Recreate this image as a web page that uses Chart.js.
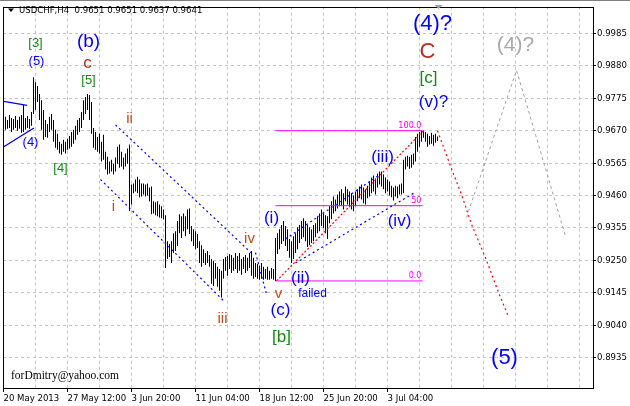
<!DOCTYPE html>
<html><head><meta charset="utf-8">
<script src="https://cdn.jsdelivr.net/npm/chart.js@4.4.0/dist/chart.umd.min.js"></script>
<style>html,body{margin:0;padding:0;background:#fff;overflow:hidden}</style>
</head><body>
<canvas id="c" width="630" height="406"></canvas>
<script>
// ---- DATA ----
const firstBar = 1; // bar index of first high/low pair
const barHigh = [
.9715,.9705,.9721,.9711,.9708,.9718,.9705,.9715,.9721,.9753,
.9711,.9718,.9708,.9731,.9843,.9827,.9815,.9789,.9769,.9737,
.9705,.9692,.9715,.9724,.9705,.9673,.9660,.9634,.9628,.9641,
.9634,.9644,.9653,.9666,.9673,.9686,.9705,.9711,.9731,.9769,
.9779,.9789,.9786,.9763,.9679,.9666,.9650,.9660,.9634,.9657,
.9602,.9586,.9570,.9576,.9563,.9583,.9618,.9625,.9602,.9583,
.9596,.9612,.9625,.9496,.9499,.9512,.9521,.9512,.9499,.9499,
.9496,.9499,.9486,.9489,.9441,.9438,.9441,.9431,.9425,.9415,
.9396,.9312,.9303,.9312,.9338,.9344,.9377,.9399,.9393,.9402,
.9393,.9415,.9418,.9361,.9351,.9344,.9335,.9312,.9299,.9286,
.9274,.9280,.9267,.9254,.9248,.9241,.9229,.9222,.9216,.9254,
.9261,.9264,.9270,.9267,.9258,.9274,.9264,.9274,.9254,.9261,
.9267,.9258,.9274,.9280,.9258,.9241,.9238,.9232,.9241,.9229,
.9222,.9229,.9216,.9225,.9222,.9322,.9338,.9351,.9364,.9377,
.9361,.9351,.9319,.9312,.9328,.9338,.9357,.9364,.9377,.9386,
.9377,.9364,.9357,.9351,.9364,.9370,.9393,.9402,.9415,.9402,
.9396,.9393,.9425,.9441,.9457,.9447,.9463,.9473,.9480,.9467,
.9489,.9480,.9473,.9467,.9460,.9473,.9480,.9489,.9496,.9486,
.9480,.9492,.9505,.9518,.9525,.9515,.9531,.9538,.9538,.9528,
.9518,.9512,.9505,.9492,.9486,.9492,.9489,.9496,.9499,.9576,
.9586,.9589,.9586,.9592,.9596,.9650,.9660,.9666,.9670,.9670,
.9666,.9660,.9653,.9663,.9657,.9660,.9651];
const barLow = [
.9673,.9676,.9679,.9666,.9673,.9679,.9670,.9676,.9663,.9666,
.9673,.9679,.9676,.9686,.9724,.9737,.9763,.9705,.9673,.9641,
.9650,.9647,.9666,.9673,.9634,.9615,.9608,.9596,.9592,.9602,
.9596,.9608,.9612,.9618,.9628,.9641,.9657,.9666,.9679,.9705,
.9724,.9737,.9705,.9660,.9615,.9608,.9602,.9596,.9570,.9576,
.9544,.9528,.9531,.9538,.9528,.9538,.9563,.9550,.9554,.9544,
.9554,.9563,.9409,.9431,.9467,.9473,.9467,.9454,.9457,.9463,
.9457,.9460,.9441,.9399,.9402,.9396,.9393,.9389,.9386,.9383,
.9225,.9254,.9261,.9241,.9274,.9280,.9296,.9338,.9322,.9344,
.9328,.9351,.9335,.9312,.9296,.9286,.9290,.9241,.9229,.9241,
.9235,.9241,.9229,.9174,.9167,.9190,.9164,.9151,.9129,.9190,
.9216,.9200,.9222,.9209,.9216,.9222,.9209,.9216,.9203,.9222,
.9209,.9216,.9225,.9200,.9190,.9196,.9190,.9187,.9190,.9187,
.9190,.9187,.9187,.9190,.9187,.9183,.9270,.9286,.9303,.9312,
.9296,.9280,.9258,.9241,.9254,.9274,.9286,.9306,.9319,.9325,
.9312,.9293,.9299,.9306,.9312,.9325,.9338,.9344,.9361,.9354,
.9338,.9319,.9370,.9383,.9402,.9409,.9418,.9425,.9428,.9415,
.9441,.9431,.9422,.9415,.9409,.9425,.9441,.9451,.9447,.9435,
.9431,.9451,.9457,.9467,.9473,.9463,.9486,.9496,.9489,.9480,
.9467,.9473,.9460,.9454,.9444,.9457,.9451,.9463,.9463,.9467,
.9544,.9554,.9547,.9550,.9560,.9570,.9602,.9618,.9634,.9647,
.9634,.9618,.9625,.9628,.9621,.9631,.9637];

const xTickLabels = ['20 May 2013','27 May 12:00','3 Jun 20:00','11 Jun 04:00','18 Jun 12:00','25 Jun 20:00','3 Jul 04:00'];
const xLabelStep = 32;     // bars between time labels
const xGridStep = 16;      // bars between vertical grid lines
const xLastGrid = 288;
const yTicks = [0.8935,0.9040,0.9145,0.9250,0.9355,0.9460,0.9565,0.9670,0.9775,0.9880,0.9985];

const titleText = 'USDCHF,H4  0.9651 0.9651 0.9637 0.9641';
const signature = 'forDmitry@yahoo.com';

// analysis lines (bar index, price)
const triUpper = [{x:0.15,y:0.9765},{x:11.8,y:0.9752}];
const triLower = [{x:0.15,y:0.9618},{x:15.2,y:0.9679}];
const downChUpper = [{x:56,y:0.9689},{x:124.5,y:0.9270}];
const downChLower = [{x:48.5,y:0.9512},{x:110,y:0.9119}];
const wedgeLine = [{x:126,y:0.9275},{x:131.5,y:0.9140}];
const upChUpper = [{x:141,y:0.9319},{x:187.5,y:0.9525}];
const upChLower = [{x:146,y:0.9241},{x:205,y:0.9467}];
const fibStart = 136, fibEnd = 209.5;
const fibLevels = [0.9670, 0.9427, 0.9183];
const fibLabels = ['100.0','50','0.0'];
const waveLine = [{x:136.5,y:0.9183},{x:210,y:0.9670}];
const projRed = [{x:217,y:0.9670},{x:224,y:0.9547},{x:229,y:0.9463},{x:234,y:0.9367},{x:241,y:0.9258},{x:247.8,y:0.9141},{x:252.5,y:0.9067}];
const projGray = [{x:231.5,y:0.9389},{x:256.5,y:0.9866},{x:281,y:0.9328}];

const BLUE='#0000ff', BROWN='#b0301e', RUST='#c24a1c', GREEN='#108a10', GRAY='#a8a8a8';
const waveLabels = [
 {t:'[3]',x:16,y:0.9953,c:GREEN,s:13},
 {t:'(5)',x:16.5,y:0.9895,c:BLUE,s:13},
 {t:'(b)',x:42.5,y:0.9959,c:BLUE,s:19},
 {t:'c',x:42,y:0.9889,c:BROWN,s:17},
 {t:'[5]',x:42.5,y:0.9834,c:GREEN,s:13},
 {t:'(4)',x:13.5,y:0.9631,c:BLUE,s:13},
 {t:'[4]',x:28.5,y:0.9547,c:GREEN,s:13},
 {t:'ii',x:63,y:0.9708,c:RUST,s:15},
 {t:'i',x:55,y:0.9422,c:RUST,s:15},
 {t:'iv',x:123,y:0.9319,c:RUST,s:15},
 {t:'iii',x:109.5,y:0.9061,c:RUST,s:15},
 {t:'v',x:137.5,y:0.9142,c:RUST,s:15},
 {t:'(c)',x:138.5,y:0.9087,c:BLUE,s:17},
 {t:'[b]',x:139,y:0.9000,c:GREEN,s:17},
 {t:'(i)',x:134,y:0.9386,c:BLUE,s:17},
 {t:'(ii)',x:148.5,y:0.9193,c:BLUE,s:17},
 {t:'failed',x:154.5,y:0.9142,c:BLUE,s:12},
 {t:'(iii)',x:189.5,y:0.9583,c:BLUE,s:17},
 {t:'(iv)',x:198,y:0.9377,c:BLUE,s:17},
 {t:'(v)?',x:215,y:0.9763,c:BLUE,s:17},
 {t:'[c]',x:212.5,y:0.9840,c:GREEN,s:17},
 {t:'C',x:212,y:0.9924,c:BROWN,s:22},
 {t:'(4)?',x:214.5,y:1.0017,c:BLUE,s:22},
 {t:'(4)?',x:256,y:0.9947,c:GRAY,s:21},
 {t:'(5)',x:250.5,y:0.8932,c:BLUE,s:22}
];

// ---- CHART ----
const TICKFONT = {family:'"DejaVu Sans Condensed","Liberation Sans",sans-serif', size:9.5};
const bars = barHigh.map((h,k)=>({x:firstBar+k, y:[barLow[k], h]}));
const lastBar = firstBar + barHigh.length - 1;

function lineDs(data, color, dash, w){
  return {type:'line', data, borderColor:color, borderWidth:w||1, borderDash:dash||[], pointRadius:0, fill:false, tension:0, order:1};
}
const fibDs = fibLevels.map(v => lineDs([{x:fibStart,y:v},{x:fibEnd,y:v}], '#ff00ff'));

const annoPlugin = {
  id:'anno',
  afterDatasetsDraw(chart){
    const {ctx, scales:{x,y}} = chart;
    ctx.save();
    ctx.font = '9px "DejaVu Sans Condensed","Liberation Sans",sans-serif';
    ctx.fillStyle = '#ff00ff'; ctx.textAlign='right'; ctx.textBaseline='alphabetic';
    fibLevels.forEach((lv,k)=>ctx.fillText(fibLabels[k], x.getPixelForValue(fibEnd)-1, y.getPixelForValue(lv)-3));
    ctx.textAlign='center'; ctx.textBaseline='middle';
    waveLabels.forEach(l=>{
      ctx.font = l.s+'px "Liberation Sans",Arial,sans-serif';
      ctx.fillStyle = l.c;
      ctx.fillText(l.t, x.getPixelForValue(l.x), y.getPixelForValue(l.y));
    });
    ctx.restore();
  },
  afterDraw(chart){
    const {ctx, chartArea:a, scales:{x}} = chart;
    ctx.save();
    ctx.fillStyle='#808080'; ctx.fillRect(0,0,chart.width,1);
    ctx.strokeStyle='#000'; ctx.lineWidth=1;
    ctx.strokeRect(Math.round(a.left)+0.5, Math.round(a.top)+0.5, Math.round(a.right-a.left), Math.round(a.bottom-a.top));
    // title
    ctx.fillStyle='#000';
    ctx.beginPath(); ctx.moveTo(8,8.5); ctx.lineTo(14,8.5); ctx.lineTo(11,12); ctx.closePath(); ctx.fill();
    ctx.font='9.5px "DejaVu Sans Condensed","Liberation Sans",sans-serif';
    ctx.textAlign='left'; ctx.textBaseline='middle';
    ctx.fillText(titleText, 19, 11);
    // signature
    ctx.font='11.5px "Liberation Serif","Times New Roman",serif';
    ctx.fillText(signature, 11, 376);
    // shift marker
    const sx = x.getPixelForValue(lastBar+0.5);
    ctx.fillStyle='#a0a0a0';
    ctx.beginPath(); ctx.moveTo(sx-4,5); ctx.lineTo(sx+4,5); ctx.lineTo(sx,9); ctx.closePath(); ctx.fill();
    ctx.restore();
  }
};

new Chart(document.getElementById('c'), {
  type:'bar',
  data:{datasets:[
    lineDs(triUpper, BLUE, [], 1.3), lineDs(triLower, BLUE, [], 1.3),
    lineDs(downChUpper, BLUE, [2,3], 1.2), lineDs(downChLower, BLUE, [2,3], 1.2), lineDs(wedgeLine, BLUE, [2,3], 1.2),
    lineDs(upChUpper, BLUE, [2,3], 1.2), lineDs(upChLower, BLUE, [2,3], 1.2),
    ...fibDs,
    lineDs(waveLine, '#ff0000', [2,2], 1.2),
    lineDs(projRed, '#ff0000', [2,3], 1.2),
    lineDs(projGray, '#a0a0a0', [3,3]),
    {type:'bar', data:bars, backgroundColor:'#000', borderWidth:0, barThickness:1, inflateAmount:0, order:5}
  ]},
  options:{
    responsive:false, devicePixelRatio:1, animation:false,
    layout:{padding:{left:3, top:4, right:0, bottom:0}},
    plugins:{legend:{display:false}, tooltip:{enabled:false}},
    scales:{
      x:{type:'linear', min:-0.25, max:294.75, offset:false,
        afterBuildTicks(ax){ const t=[]; for(let v=0; v<=xLastGrid; v+=xGridStep) t.push({value:v}); ax.ticks=t; },
        afterFit(ax){ ax.height=18; },
        ticks:{autoSkip:false, maxRotation:0, minRotation:0, align:'start', padding:1, color:'#000', font:TICKFONT,
          callback:(v)=>{ const k=v/xLabelStep; return (Number.isInteger(k) && k<xTickLabels.length) ? xTickLabels[k] : ''; }},
        grid:{color:'#c4c4c4', offset:false, tickLength:4,
          tickColor:(c)=>{ const v=c.tick?c.tick.value:-1; const k=v/xLabelStep; return (Number.isInteger(k)&&k<xTickLabels.length)?'#000':'rgba(0,0,0,0)'; }},
        border:{display:false, dash:[3,3]}
      },
      y:{type:'linear', position:'right', min:0.8836, max:1.0072,
        afterBuildTicks(ax){ ax.ticks = yTicks.map(v=>({value:v})); },
        afterFit(ax){ ax.width=37; },
        ticks:{callback:(v)=>Number(v).toFixed(4), padding:1, color:'#000', font:TICKFONT},
        grid:{color:'#c4c4c4', tickLength:3, tickColor:'#000'},
        border:{display:false, dash:[3,3]}
      }
    }
  },
  plugins:[annoPlugin]
});
</script>
</body></html>
